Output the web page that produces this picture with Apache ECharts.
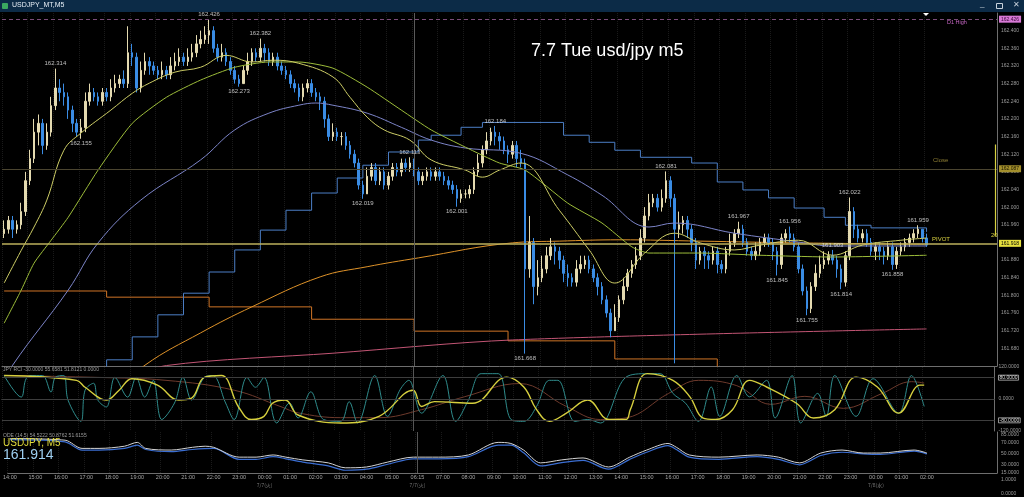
<!DOCTYPE html>
<html><head><meta charset="utf-8">
<script src="https://cdn.jsdelivr.net/npm/echarts@6/dist/echarts.min.js"></script>
<style>html,body{margin:0;padding:0;background:#000;}#c{width:1024px;height:497px;}</style>
</head><body><div id="c"></div>
<script>
// ---------- DATA ----------
// 10-minute slots starting 7/6 14:00
const startTime = '14:00';
const slotMinutes = 10;
const slotCount = 233;
const renamedSlots = [[96, '06:15']];           // first bar after the daily break
const dateLabels = [[60, '7/7(火)'], [96, '7/7(火)'], [204, '7/8(水)']];

const opens = [
161.94,161.95,161.97,161.95,161.96, 161.99,162.06,162.11,162.17,162.19,
162.14,162.17,162.23,162.27,162.26, 162.25,162.22,162.19,162.17,162.18,
162.24,162.26,162.25,162.24,162.26, 162.25,162.27,162.28,162.29,162.28,
162.35,162.34,162.27,162.31,162.33, 162.32,162.31,162.30,162.31,162.30,
162.32,162.33,162.34,162.33,162.34, 162.35,162.37,162.38,162.39,162.40,
162.36,162.34,162.35,162.33,162.31, 162.29,162.28,162.31,162.33,162.35,
162.34,162.36,162.35,162.33,162.34, 162.32,162.31,162.30,162.28,162.27,
162.25,162.27,162.28,162.26,162.25, 162.24,162.20,162.16,162.17,162.16,
162.16,162.14,162.12,162.10,162.05, 162.03,162.07,162.09,162.06,162.08,
162.05,162.07,162.09,162.08,162.10, 162.09,162.10,162.08,162.06,162.07,
162.08,162.07,162.08,162.07,162.06, 162.05,162.04,162.02,162.03,162.03,
162.04,162.08,162.10,162.13,162.15, 162.17,162.16,162.15,162.13,162.12,
162.14,162.11,162.10,161.86,161.92, 161.82,161.84,161.86,161.89,161.91,
161.90,161.88,161.85,161.84,161.83, 161.86,161.87,161.88,161.86,161.84,
161.82,161.79,161.76,161.72,161.75, 161.79,161.82,161.85,161.87,161.89,
161.93,161.98,162.01,162.02,162.00, 162.02,162.06,162.02,161.95,161.96,
161.97,161.95,161.92,161.88,161.90, 161.89,161.88,161.90,161.87,161.86,
161.90,161.92,161.94,161.95,161.92, 161.90,161.89,161.90,161.92,161.93,
161.92,161.90,161.87,161.93,161.94, 161.93,161.91,161.86,161.81,161.77,
161.82,161.85,161.87,161.88,161.89, 161.88,161.86,161.83,161.89,161.99,
161.95,161.93,161.94,161.92,161.90, 161.91,161.90,161.89,161.91,161.87,
161.90,161.91,161.92,161.93,161.94, 161.95,161.93
];
const closes = [
161.95,161.97,161.95,161.96,161.99, 162.06,162.11,162.17,162.19,162.14,
162.17,162.23,162.27,162.26,162.25, 162.22,162.19,162.17,162.18,162.24,
162.26,162.25,162.24,162.26,162.25, 162.27,162.28,162.29,162.28,162.35,
162.34,162.27,162.31,162.33,162.32, 162.31,162.30,162.31,162.30,162.32,
162.33,162.34,162.33,162.34,162.35, 162.37,162.38,162.39,162.40,162.36,
162.34,162.35,162.33,162.31,162.29, 162.28,162.31,162.33,162.35,162.34,
162.36,162.35,162.33,162.34,162.32, 162.31,162.30,162.28,162.27,162.25,
162.27,162.28,162.26,162.25,162.24, 162.20,162.16,162.17,162.16,162.16,
162.14,162.12,162.10,162.05,162.03, 162.07,162.09,162.06,162.08,162.05,
162.07,162.09,162.08,162.10,162.09, 162.10,162.08,162.06,162.07,162.08,
162.07,162.08,162.07,162.06,162.05, 162.04,162.02,162.03,162.03,162.04,
162.08,162.10,162.13,162.15,162.17, 162.16,162.15,162.13,162.12,162.14,
162.11,162.10,161.86,161.92,161.82, 161.84,161.86,161.89,161.91,161.90,
161.88,161.85,161.84,161.83,161.86, 161.87,161.88,161.86,161.84,161.82,
161.79,161.76,161.72,161.75,161.79, 161.82,161.85,161.87,161.89,161.93,
161.98,162.01,162.02,162.00,162.02, 162.06,162.02,161.95,161.96,161.97,
161.95,161.92,161.88,161.90,161.89, 161.88,161.90,161.87,161.86,161.90,
161.92,161.94,161.95,161.92,161.90, 161.89,161.90,161.92,161.93,161.92,
161.90,161.87,161.93,161.94,161.93, 161.91,161.86,161.81,161.77,161.82,
161.85,161.87,161.88,161.89,161.88, 161.86,161.83,161.89,161.99,161.95,
161.93,161.94,161.92,161.90,161.91, 161.90,161.89,161.91,161.87,161.90,
161.91,161.92,161.93,161.94,161.95, 161.93,161.914
];
const highs = [
161.97,161.98,161.98,161.97,162.01, 162.08,162.13,162.20,162.21,162.20,
162.19,162.25,162.314,162.29,162.28, 162.26,162.23,162.20,162.20,162.26,
162.28,162.27,162.26,162.27,162.27, 162.29,162.30,162.30,162.31,162.41,
162.37,162.35,162.33,162.35,162.34, 162.33,162.32,162.33,162.32,162.34,
162.35,162.36,162.35,162.36,162.37, 162.39,162.40,162.41,162.426,162.41,
162.37,162.37,162.36,162.34,162.32, 162.30,162.32,162.35,162.36,162.36,
162.382,162.37,162.36,162.35,162.35, 162.33,162.32,162.31,162.29,162.28,
162.28,162.29,162.29,162.27,162.26, 162.25,162.21,162.19,162.18,162.17,
162.17,162.15,162.13,162.11,162.06, 162.09,162.10,162.10,162.09,162.09,
162.08,162.10,162.10,162.11,162.11, 162.113,162.11,162.09,162.08,162.09,
162.09,162.09,162.09,162.08,162.07, 162.06,162.05,162.04,162.04,162.05,
162.09,162.12,162.14,162.17,162.18, 162.184,162.17,162.16,162.14,162.15,
162.15,162.13,162.11,161.98,161.93, 161.88,161.89,161.91,161.93,161.92,
161.91,161.89,161.87,161.85,161.88, 161.89,161.89,161.89,161.87,161.85,
161.83,161.80,161.77,161.78,161.80, 161.84,161.86,161.88,161.91,161.95,
162.00,162.03,162.03,162.03,162.04, 162.081,162.07,162.03,161.99,161.98,
161.98,161.96,161.93,161.91,161.91, 161.90,161.91,161.91,161.88,161.91,
161.94,161.95,161.967,161.96,161.93, 161.91,161.92,161.93,161.94,161.94,
161.93,161.91,161.94,161.95,161.956, 161.94,161.92,161.87,161.82,161.83,
161.87,161.89,161.90,161.90,161.903, 161.89,161.87,161.90,162.022,162.00,
161.96,161.95,161.95,161.93,161.92, 161.92,161.91,161.92,161.92,161.91,
161.92,161.93,161.94,161.95,161.959, 161.95,161.94
];
const lows = [
161.93,161.94,161.93,161.94,161.95, 161.98,162.05,162.10,162.14,162.12,
162.13,162.16,162.22,162.24,162.23, 162.20,162.17,162.16,162.155,162.17,
162.23,162.24,162.23,162.23,162.24, 162.24,162.26,162.27,162.27,162.27,
162.32,162.26,162.26,162.30,162.30, 162.30,162.29,162.29,162.29,162.29,
162.31,162.32,162.32,162.32,162.33, 162.34,162.36,162.37,162.37,162.35,
162.33,162.33,162.32,162.30,162.28, 162.273,162.28,162.30,162.32,162.33,
162.33,162.33,162.32,162.32,162.31, 162.30,162.29,162.27,162.26,162.24,
162.24,162.26,162.25,162.24,162.22, 162.18,162.15,162.15,162.15,162.14,
162.13,162.11,162.09,162.04,162.019, 162.03,162.06,162.05,162.05,162.04,
162.04,162.06,162.07,162.07,162.08, 162.08,162.07,162.05,162.05,162.06,
162.06,162.06,162.06,162.05,162.04, 162.03,162.001,162.01,162.02,162.02,
162.03,162.07,162.09,162.12,162.14, 162.14,162.13,162.12,162.10,162.11,
162.09,162.09,161.668,161.84,161.78, 161.80,161.83,161.85,161.88,161.87,
161.86,161.83,161.82,161.82,161.82, 161.85,161.86,161.85,161.83,161.80,
161.78,161.75,161.705,161.72,161.74, 161.78,161.81,161.84,161.86,161.88,
161.92,161.97,162.00,161.99,161.99, 162.01,162.00,161.646,161.93,161.94,
161.93,161.90,161.86,161.87,161.86, 161.86,161.87,161.85,161.85,161.85,
161.89,161.91,161.93,161.91,161.89, 161.88,161.88,161.89,161.91,161.91,
161.88,161.845,161.86,161.92,161.92, 161.90,161.85,161.80,161.755,161.76,
161.81,161.84,161.86,161.87,161.87, 161.84,161.814,161.82,161.88,161.93,
161.92,161.92,161.91,161.89,161.88, 161.88,161.87,161.88,161.858,161.86,
161.89,161.90,161.91,161.92,161.93, 161.92,161.91
];
// marked highs / lows [slot, price, side]
const peakLabels = [
[12,162.314,'top'],[18,162.155,'bottom'],[48,162.426,'top'],[55,162.273,'bottom'],[60,162.382,'top'],
[84,162.019,'bottom'],[95,162.113,'top'],[106,162.001,'bottom'],[115,162.184,'top'],[122,161.668,'bottom'],
[155,162.081,'top'],[172,161.967,'top'],[181,161.845,'bottom'],[184,161.956,'top'],[188,161.755,'bottom'],
[194,161.903,'top'],[196,161.814,'bottom'],[198,162.022,'top'],[208,161.858,'bottom'],[214,161.959,'top']
];
// indicator lines on the price chart, [slot, price]
const maFast = [[0,161.828],[4,161.902],[7,161.955],[10,162.016],[14,162.129],[18,162.168],[25,162.220],[30,162.258],[34,162.281],[40,162.306],[46,162.317],[52,162.344],[58,162.329],[63,162.333],[69,162.326],[77,162.295],[81,162.249],[85,162.204],[89,162.175],[95,162.152],[100,162.107],[108,162.084],[112,162.068],[116,162.084],[121,162.100],[130,161.993],[137,161.903],[143,161.828],[150,161.896],[157,161.941],[163,161.919],[171,161.903],[177,161.914],[186,161.925],[194,161.891],[201,161.914],[210,161.925],[216,161.930]];
const maMtf = [[0,161.737],[4,161.812],[7,161.873],[11,161.925],[15,161.977],[22,162.084],[30,162.190],[38,162.249],[46,162.288],[54,162.317],[62,162.329],[69,162.329],[77,162.315],[85,162.272],[93,162.220],[100,162.175],[108,162.136],[116,162.100],[122,162.084],[132,162.009],[140,161.964],[147,161.910],[151,161.896],[163,161.896],[177,161.891],[194,161.887],[216,161.891]];
const maSlow = [[0,161.60],[2,161.642],[15,161.812],[22,161.919],[32,162.016],[46,162.107],[54,162.175],[62,162.213],[69,162.231],[73,162.236],[77,162.231],[85,162.213],[93,162.181],[100,162.152],[108,162.134],[121,162.122],[132,162.073],[140,162.027],[151,161.955],[157,161.964],[171,161.941],[186,161.921],[194,161.912],[216,161.912]];
const maLong = [[22,161.55],[33,161.642],[46,161.715],[58,161.774],[74,161.842],[85,161.865],[97,161.885],[119,161.919],[130,161.923],[144,161.926],[163,161.923],[186,161.919],[216,161.916]];
const maDaily = [[25,161.60],[38,161.641],[77,161.669],[119,161.699],[216,161.724]];
const stepHigh = [[20,161.55],[24,161.654],[30,161.706],[36,161.756],[42,161.805],[48,161.853],[54,161.903],[60,161.948],[66,161.993],[72,162.032],[78,162.066],[84,162.095],[90,162.125],[97,162.152],[100,162.163],[107,162.181],[112,162.192],[131,162.163],[137,162.147],[143,162.129],[149,162.113],[161,162.100],[167,162.057],[173,162.039],[179,162.021],[185,161.998],[192,161.977],[197,161.959],[203,161.953],[216,161.944]];
const stepLow = [[0,161.810],[24,161.796],[48,161.774],[72,161.746],[96,161.719],[118,161.697],[143,161.656],[167,161.60],[216,161.60]];
const levels = { d1High: 162.426, close: 162.087, pivot: 161.918 };
const rangeBar = [162.142, 161.935];
// RCI sub window
const rciFast = [[0,88],[4,7],[5,70],[6,88],[9,88],[11,26],[12,81],[14,88],[15,-4],[18,-84],[19,33],[21,59],[22,-4],[24,-30],[26,81],[29,7],[31,81],[33,7],[35,70],[37,-77],[40,-15],[42,81],[44,-4],[47,81],[49,88],[52,-15],[54,-77],[57,81],[59,44],[61,81],[64,-90],[67,-15],[69,-71],[72,27],[75,-77],[79,-84],[81,-10],[83,-90],[87,88],[90,-65],[93,36],[95,70],[98,-53],[103,88],[106,-84],[109,-4],[112,95],[116,95],[119,-77],[122,-84],[125,-28],[128,70],[130,70],[134,-84],[137,-77],[140,-90],[146,82],[151,95],[154,95],[157,21],[160,-16],[163,-84],[166,45],[168,-65],[172,88],[175,8],[179,70],[181,-71],[185,88],[187,-90],[191,21],[193,-65],[195,88],[200,-65],[204,76],[210,-53],[213,88],[216,-28]];
const rciMid = [[0,88],[17,70],[19,44],[24,-4],[27,33],[30,76],[36,52],[41,-4],[44,3],[47,81],[51,88],[55,-29],[58,-77],[61,-65],[63,-16],[66,-4],[69,-60],[79,-90],[88,-65],[96,33],[98,-28],[101,-10],[110,-16],[118,82],[122,45],[125,-40],[128,-84],[132,-53],[137,-4],[142,-77],[146,-77],[147,-40],[151,95],[157,70],[161,8],[164,-71],[167,-77],[171,-40],[175,70],[179,45],[186,-16],[190,-71],[195,-40],[200,82],[205,45],[210,-53],[215,52],[216,52]];
const rciSlow = [[0,88],[22,81],[38,70],[54,33],[65,-29],[69,-52],[79,-70],[88,-70],[98,-40],[108,8],[121,58],[132,-28],[140,-77],[146,-71],[156,21],[163,70],[172,50],[180,-20],[188,10],[197,-35],[206,20],[213,65],[216,60]];
const rciLevels = [80, 0, -80];
// oscillator sub window
const oscMain = [[0,78],[13,75],[17,60],[21,60],[27,64],[30,71],[32,60],[38,57],[43,62],[46,64],[48,62],[54,44],[58,44],[62,48],[65,44],[69,39],[75,33.5],[79,24.5],[84,26],[89,35],[95,44],[101,44],[108,48],[115,71],[118,69],[121,57],[125,33.5],[130,39],[135,42.5],[141,26],[146,44],[150,57],[155,69],[157,62],[160,48],[167,44],[176,48],[181,44],[186,33.5],[191,51.5],[196,57],[201,51.5],[205,51.5],[213,57],[216,51.5]];
const oscSignal = [[0,76],[13,72],[17,57],[21,57],[27,60],[30,66],[32,58],[38,54],[43,58],[48,60],[54,40],[58,40],[62,45],[65,41],[69,35],[75,28],[79,20],[84,22],[89,31],[95,41],[101,41],[108,45],[115,66],[118,66],[121,52],[125,28],[130,34],[135,38],[141,22],[146,40],[150,53],[155,65],[157,58],[160,44],[167,40],[176,45],[181,40],[186,30],[191,47],[196,53],[201,50],[205,49],[213,55],[216,50]];
const priceTicks = { min: 161.64, max: 162.44, step: 0.04 };
const rciTicks = [120, 80, 0, -80, -120];
const oscTicks = [85, 70, 50, 30, 15];

// ---------- BUILD ----------
const pad = n => (n < 10 ? '0' : '') + n;
const categories = [];
{
  const [h0, m0] = startTime.split(':').map(Number);
  for (let k = 0; k < slotCount; k++) {
    const t = (h0 * 60 + m0 + k * slotMinutes) % 1440;
    categories.push(pad(Math.floor(t / 60)) + ':' + pad(t % 60));
  }
  renamedSlots.forEach(([k, s]) => { categories[k] = s; });
}
const lastIdx = closes.length - 1;
const dateMap = {}; dateLabels.forEach(([k, s]) => { dateMap[k] = s; });
const isTick = (idx, val) => idx <= lastIdx && (String(val).endsWith(':00') || val === '06:15');
const candleData = closes.map((c, i) => [opens[i], c, lows[i], highs[i]]);
const FONT = 'Liberation Sans, Arial, sans-serif';
const gridCol = '#1a1a1a';

const xBase = gi => ({
  type: 'category', gridIndex: gi, data: categories, boundaryGap: true,
  axisLine: { show: true, lineStyle: { color: '#6e6e6e' } },
  axisTick: { show: false },
  axisLabel: { show: false },
  splitLine: { show: true, interval: isTick, lineStyle: { color: gridCol, type: 'dotted' } }
});
const xAxes = [xBase(0), xBase(1), xBase(2)];
xAxes[2].axisLabel = {
  show: true, interval: isTick, color: '#a6a6a6', fontSize: 5.5, fontFamily: FONT, margin: 1,
  formatter: (v, i) => dateMap[i] ? v + '\n{d|' + dateMap[i] + '}' : v,
  rich: { d: { fontSize: 5, color: '#7c7c7c', lineHeight: 11, fontFamily: 'Noto Sans CJK JP' } }
};

const yRight = (gi, extra) => Object.assign({
  type: 'value', gridIndex: gi, position: 'right',
  axisLine: { show: true, lineStyle: { color: '#6e6e6e' } },
  axisTick: { show: false },
  splitLine: { show: false },
  axisLabel: { color: '#9c9c9c', fontSize: 5, fontFamily: FONT, margin: 4 }
}, extra);

const lineS = (data, color, width, extra) => Object.assign({
  type: 'line', data, xAxisIndex: 0, yAxisIndex: 0, showSymbol: false, symbol: 'none',
  lineStyle: { color, width }, silent: true, z: 3, clip: true
}, extra || {});

const vSep = { silent: true, symbol: ['none', 'none'], label: { show: false },
  lineStyle: { color: '#555', width: 1, type: 'solid' }, data: [{ xAxis: '06:15' }] };

const option = {
  backgroundColor: '#000000',
  animation: false,
  title: { text: '7.7 Tue usd/jpy m5', left: 526, top: 37,
    textStyle: { color: '#ffffff', fontSize: 18, fontWeight: 'normal', fontFamily: FONT } },
  grid: [
    { left: 2, right: 27, top: 13, height: 353 },
    { left: 2, right: 27, top: 367, height: 64 },
    { left: 2, right: 27, top: 432, height: 41 }
  ],
  xAxis: xAxes,
  yAxis: [
    yRight(0, { min: priceTicks.min, max: priceTicks.max, interval: priceTicks.step,
      axisLabel: { color: '#9c9c9c', fontSize: 5, fontFamily: FONT, margin: 4, showMinLabel: false, showMaxLabel: false,
        formatter: v => v.toFixed(3) } }),
    yRight(1, { min: -120, max: 120,
      axisLabel: { customValues: rciTicks, color: '#9c9c9c', fontSize: 5, fontFamily: FONT, margin: 4,
        formatter: v => (v === 80 || v === -80) ? '{b|' + v.toFixed(4) + '}' : v.toFixed(4),
        rich: { b: { borderColor: '#bdbdbd', borderWidth: 0.8, padding: [0, 1], color: '#dddddd', fontSize: 5, fontFamily: FONT } } } }),
    yRight(2, { min: 15, max: 90,
      axisLabel: { customValues: oscTicks, color: '#9c9c9c', fontSize: 5, fontFamily: FONT, margin: 4,
        formatter: v => v.toFixed(4) } })
  ],
  series: [
    lineS(stepLow, '#cf7426', 1, { step: 'end', z: 2 }),
    lineS(maDaily, '#c25574', 1, { smooth: 0.3, z: 2 }),
    lineS(maLong, '#de9229', 1, { smooth: 0.4, z: 2 }),
    lineS(stepHigh, '#4c7fc6', 1, { step: 'end', z: 2 }),
    {
      type: 'candlestick', xAxisIndex: 0, yAxisIndex: 0, data: candleData, barWidth: 2, z: 2,
      itemStyle: { color: '#e4dab0', color0: '#3a8ce4', borderColor: '#e4dab0', borderColor0: '#3a8ce4', borderWidth: 1 },
      markLine: {
        silent: true, symbol: ['none', 'none'], animation: false, precision: 3,
        data: [
          { yAxis: levels.d1High, lineStyle: { color: '#7a4c78', width: 1, type: [4, 3] },
            label: { show: true, position: 'end', distance: 2, formatter: p => p.value.toFixed(3), backgroundColor: '#d879d6', color: '#3a0a3a', fontSize: 5, padding: [1, 2], fontFamily: FONT } },
          { yAxis: levels.close, lineStyle: { color: '#4b4530', width: 1, type: 'solid' },
            label: { show: true, position: 'end', distance: 2, formatter: p => p.value.toFixed(3), backgroundColor: '#a38f2c', color: '#1a1600', fontSize: 5, padding: [1, 2], fontFamily: FONT } },
          { yAxis: levels.pivot, lineStyle: { color: '#bdb15c', width: 1.6, type: 'solid' },
            label: { show: true, position: 'end', distance: 2, formatter: p => p.value.toFixed(3), backgroundColor: '#e6e03e', color: '#000', fontSize: 5, padding: [1, 2], fontFamily: FONT } },
          { xAxis: '06:15', lineStyle: { color: '#5a5a5a', width: 1, type: 'solid' }, label: { show: false } },
          [ { coord: [232, rangeBar[0]], lineStyle: { color: '#d8d040', width: 1.2, type: 'solid' }, label: { show: false } },
            { coord: [232, rangeBar[1]] } ]
        ]
      }
    },
    lineS(maSlow, '#7c84c8', 1, { smooth: 0.4, z: 4 }),
    lineS(maMtf, '#9dbd3a', 1, { smooth: 0.2, z: 4 }),
    lineS(maFast, '#cdcd66', 1, { smooth: 0.4, z: 4 }),
    {
      type: 'scatter', xAxisIndex: 0, yAxisIndex: 0, symbolSize: 0, z: 6, silent: true,
      data: peakLabels.map(([i, p, side]) => ({ value: [i, p], label: { position: side } })),
      label: { show: true, distance: 2, color: '#e6e6e6', fontSize: 6, fontFamily: FONT, formatter: p => p.value[1].toFixed(3) }
    },
    // RCI window
    { type: 'line', xAxisIndex: 1, yAxisIndex: 1, data: rciSlow, showSymbol: false, smooth: 0.4, silent: true,
      lineStyle: { color: '#6e3a2c', width: 1 },
      markLine: { silent: true, symbol: ['none', 'none'], label: { show: false },
        lineStyle: { color: '#3d3d3d', width: 1, type: 'solid' },
        data: rciLevels.map(v => ({ yAxis: v })).concat([{ xAxis: '06:15', lineStyle: { color: '#555' } }]) } },
    { type: 'line', xAxisIndex: 1, yAxisIndex: 1, data: rciFast, showSymbol: false, smooth: 0.35, silent: true,
      lineStyle: { color: '#2f8c8c', width: 1 } },
    { type: 'line', xAxisIndex: 1, yAxisIndex: 1, data: rciMid, showSymbol: false, smooth: 0.4, silent: true,
      lineStyle: { color: '#d6cf3e', width: 1.4 } },
    // oscillator window
    { type: 'line', xAxisIndex: 2, yAxisIndex: 2, data: oscSignal, showSymbol: false, smooth: 0.3, silent: true,
      lineStyle: { color: '#3b6ed2', width: 1.2 }, markLine: vSep },
    { type: 'line', xAxisIndex: 2, yAxisIndex: 2, data: oscMain, showSymbol: false, smooth: 0.3, silent: true,
      lineStyle: { color: '#d4d4d4', width: 1 } }
  ],
  graphic: [
    { type: 'rect', left: 0, top: 0, shape: { width: 1024, height: 12 }, style: { fill: '#0c2b47' }, z: 100 },
    { type: 'rect', left: 2, top: 3, shape: { width: 6, height: 6, r: 1 }, style: { fill: '#3aa860' }, z: 101 },
    { type: 'text', left: 12, top: 2, style: { text: 'USDJPY_MT,M5', fill: '#e6eef6', fontSize: 7, fontFamily: FONT }, z: 101 },
    { type: 'text', left: 980, top: 0, style: { text: '_', fill: '#c8d2dc', fontSize: 8, fontFamily: FONT }, z: 101 },
    { type: 'rect', shape: { x: 996.5, y: 3.5, width: 6, height: 5 }, style: { fill: null, stroke: '#c8d2dc', lineWidth: 1 }, z: 101 },
    { type: 'text', left: 1013, top: 1, style: { text: '✕', fill: '#c8d2dc', fontSize: 8, fontFamily: 'DejaVu Sans' }, z: 101 },
    { type: 'polygon', shape: { points: [[923, 13], [929, 13], [926, 16]] }, style: { fill: '#ffffff' }, z: 101 },
    { type: 'text', left: 947, top: 19, style: { text: 'D1 High', fill: '#c666c4', fontSize: 5.5, fontFamily: FONT }, z: 50 },
    { type: 'text', left: 933, top: 157, style: { text: 'Close', fill: '#8f7f34', fontSize: 6, fontFamily: FONT }, z: 50 },
    { type: 'text', left: 932, top: 236, style: { text: 'PIVOT', fill: '#d8d040', fontSize: 6, fontFamily: FONT }, z: 50 },
    { type: 'text', left: 991, top: 232, style: { text: '20', fill: '#d8d040', fontSize: 6, fontFamily: FONT }, z: 50 },
    { type: 'text', left: 3, top: 367, style: { text: 'JPY RCI -30.0000 55.6581 51.8121 0.0000', fill: '#9a9a9a', fontSize: 5, fontFamily: FONT }, z: 50 },
    { type: 'text', left: 3, top: 433, style: { text: 'ODE (14,5) 54.5222 50.8762 51.6155', fill: '#9a9a9a', fontSize: 5, fontFamily: FONT }, z: 50 },
    { type: 'text', left: 3, top: 438, style: { text: 'USDJPY, M5', fill: '#e2dc3c', fontSize: 10, fontFamily: FONT }, z: 50 },
    { type: 'text', left: 3, top: 448, style: { text: '161.914', fill: '#9fd0f2', fontSize: 14, fontFamily: FONT }, z: 50 },
    { type: 'text', left: 1001, top: 477, style: { text: '1.0000', fill: '#9c9c9c', fontSize: 5, fontFamily: FONT }, z: 50 },
    { type: 'text', left: 1001, top: 491, style: { text: '0.0000', fill: '#9c9c9c', fontSize: 5, fontFamily: FONT }, z: 50 }
  ]
};
const chart = echarts.init(document.getElementById('c'), null, { renderer: 'canvas', width: 1024, height: 497 });
chart.setOption(option);
</script></body></html>
